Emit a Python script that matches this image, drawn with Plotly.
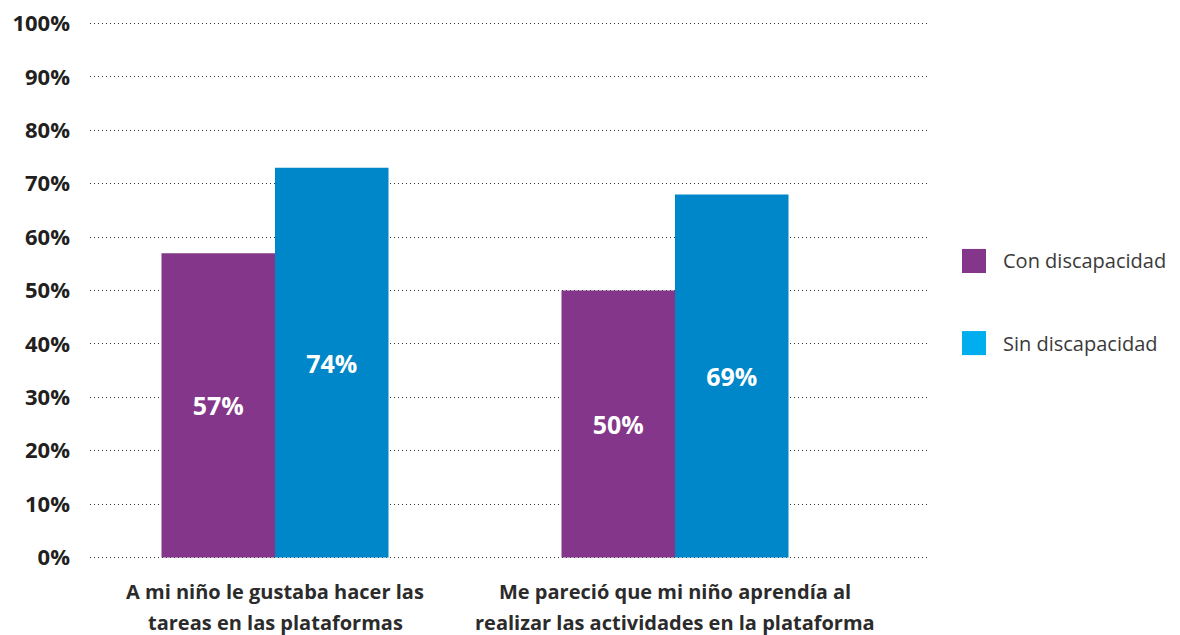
import plotly.graph_objects as go

categories = [["A mi niño le gustaba hacer las", "tareas en las plataformas"],
              ["Me pareció que mi niño aprendía al", "realizar las actividades en la plataforma"]]
series_names = ["Con discapacidad", "Sin discapacidad"]
con_values = [57, 50]
sin_values = [73, 68]
con_labels = ["57%", "50%"]
sin_labels = ["74%", "69%"]
y_ticks = [0, 10, 20, 30, 40, 50, 60, 70, 80, 90, 100]
y_ticklabels = [f"{v}%" for v in y_ticks]

purple = "#84378A"
blue_bar = "#0087C9"
blue_legend = "#00AEEF"
font_family = "'Open Sans', Lato, sans-serif"

x_pos = list(range(len(categories)))
# page body has an 8px margin; figure coordinates are shifted accordingly
L, T = 82, 14.4
PX_W = 838.0
PX_H = 536.2
Y_LO, Y_HI = -0.3, 100.3

def fig_y_to_paper(py):
    return (T + PX_H - py) / PX_H

def fig_x_to_paper(px):
    return (px - L) / PX_W

fig = go.Figure()
fig.add_trace(go.Bar(x=x_pos, y=con_values, name=series_names[0], marker_color=purple,
                     marker_line_width=0, text=con_labels, textposition="inside",
                     insidetextanchor="middle", showlegend=False,
                     textfont=dict(color="white", size=25, family=font_family, weight="bold")))
fig.add_trace(go.Bar(x=x_pos, y=sin_values, name=series_names[1], marker_color=blue_bar,
                     marker_line_width=0, text=sin_labels, textposition="inside",
                     insidetextanchor="middle", showlegend=False,
                     textfont=dict(color="white", size=25, family=font_family, weight="bold")))

# custom legend (large squares)
legend_items = [(series_names[0], purple, 253), (series_names[1], blue_legend, 335)]
for name, col, py in legend_items:
    yp = fig_y_to_paper(py)
    fig.add_shape(type="rect", xref="paper", yref="paper",
                  x0=fig_x_to_paper(954), x1=fig_x_to_paper(978),
                  y0=yp - 12 / PX_H, y1=yp + 12 / PX_H,
                  fillcolor=col, line_width=0)
    fig.add_annotation(xref="paper", yref="paper", x=fig_x_to_paper(993), y=yp, text=name,
                       showarrow=False, xanchor="left", yanchor="middle",
                       font=dict(size=20, color="#3a3a3a", family=font_family))

# category labels (two lines each)
for xi, lines in zip(x_pos, categories):
    for li, line in enumerate(lines):
        fig.add_annotation(xref="x", yref="paper", x=xi, y=fig_y_to_paper(583 + 31 * li),
                           text=line, showarrow=False, xanchor="center", yanchor="middle",
                           font=dict(size=20, color="#2b2b2b", family=font_family, weight="bold"))

fig.update_layout(
    width=1180, height=635,
    margin=dict(l=L, r=1180 - L - PX_W, t=T, b=635 - T - PX_H, autoexpand=False),
    plot_bgcolor="white", paper_bgcolor="white",
    barmode="group", bargap=0.4325, bargroupgap=0,
    font=dict(family=font_family),
)
fig.update_xaxes(range=[-0.4625, 1.6325], tickvals=x_pos, showticklabels=False,
                 showgrid=False, zeroline=False, showline=False, ticks="", automargin=False)
fig.update_yaxes(range=[Y_LO, Y_HI], tickvals=y_ticks, ticktext=y_ticklabels,
                 showgrid=True, gridcolor="#333333", griddash="1px,3px", gridwidth=1,
                 zeroline=False, showline=False, ticks="", ticklabelstandoff=19, automargin=False,
                 ticklabeloverflow="allow",
                 tickfont=dict(size=22, color="#231F20", family=font_family, weight="bold"))

fig.write_html("out.html")
